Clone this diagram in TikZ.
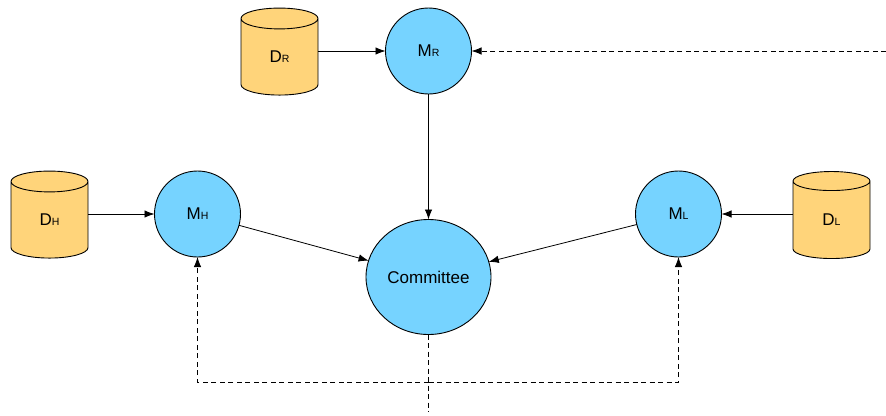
\documentclass[tikz,border=0pt]{standalone}
\usepackage{fontspec}
\setmainfont{Liberation Sans}
\usetikzlibrary{shapes.geometric,arrows.meta}
\definecolor{modelblue}{HTML}{76D3FF}
\definecolor{datayellow}{HTML}{FFD47A}
\newcommand{\lab}[2]{{\fontsize{17}{20}\selectfont #1}{\fontsize{10.5}{12}\selectfont #2}}
\tikzset{
  x=1pt,y=-1pt,
  model/.style={circle,draw=black,fill=modelblue,line width=0.9pt,minimum size=86pt,inner sep=0pt,outer sep=0pt},
  committee/.style={ellipse,draw=black,fill=modelblue,line width=0.9pt,minimum width=125pt,minimum height=115pt,inner sep=0pt,outer sep=0pt,font=\fontsize{17}{20}\selectfont},
  datastore/.style={cylinder,shape border rotate=90,shape aspect=1.05,draw=black,fill=datayellow,line width=0.9pt,minimum width=77pt,minimum height=87pt,inner sep=0pt,outer sep=0pt},
  flow/.style={line width=0.8pt,-{Latex[length=10pt,width=7.5pt]}},
  feedback/.style={flow,dash pattern=on 5pt off 3.5pt},
  feedbackline/.style={line width=0.8pt,dash pattern=on 5pt off 3.5pt},
}
\begin{document}
\begin{tikzpicture}
\useasboundingbox (0,0) rectangle (886,415);
\node[model] (MR) at (428.5,51) {\lab{M}{R}};
\node[model] (MH) at (197.5,214) {\lab{M}{H}};
\node[model] (ML) at (678.5,214) {\lab{M}{L}};
\node[committee] (C) at (428.5,277) {Committee};
\node[datastore] (DR) at (279.5,57) {\lab{D}{R}};
\node[datastore] (DH) at (49.5,220) {\lab{D}{H}};
\node[datastore] (DL) at (831.5,220) {\lab{D}{L}};
\coordinate (feedR) at (886,51);
\coordinate (junction) at (428.5,382);
\coordinate (tail) at (428.5,412);
\coordinate (cornerH) at (197.5,382);
\coordinate (cornerL) at (678.5,382);
\draw[flow] (DR.east |- MR.west) -- (MR.west);
\draw[flow] (DH.east |- MH.west) -- (MH.west);
\draw[flow] (DL.west |- ML.east) -- (ML.east);
\draw[flow] (MR.south) -- (C.north);
\draw[flow] (MH) -- (C);
\draw[flow] (ML) -- (C);
\draw[feedback] (feedR) -- (MR.east);
\draw[feedbackline] (C.south) -- (tail);
\draw[feedback] (junction) -- (cornerH) -- (MH.south);
\draw[feedback] (junction) -- (cornerL) -- (ML.south);
\end{tikzpicture}
\end{document}
